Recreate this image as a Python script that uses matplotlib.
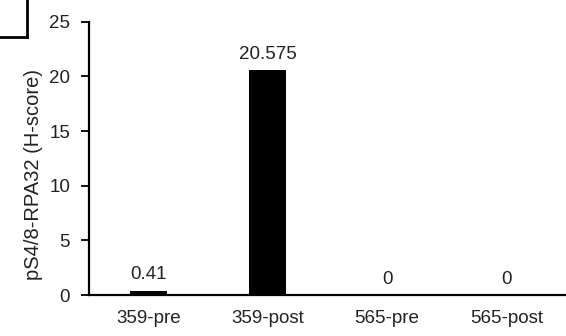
import matplotlib.pyplot as plt
from matplotlib.lines import Line2D

plt.rcParams['font.family'] = ['Liberation Sans', 'DejaVu Sans']

categories = ['359-pre', '359-post', '565-pre', '565-post']
values = [0.41, 20.575, 0, 0]
labels = ['0.41', '20.575', '0', '0']

fs = 13.5
fig = plt.figure(figsize=(5.66, 3.36), dpi=100)
ax = fig.add_axes([0.157, 0.122, 0.843, 0.813])

x = range(len(categories))
ax.bar(x, values, width=0.31, color='black')
for xi, v, lab in zip(x, values, labels):
    ax.text(xi, v + 0.65, lab, ha='center', va='bottom', fontsize=fs, color='#222222')

ax.set_xlim(-0.5, 3.5)
ax.set_ylim(0, 25)
ax.set_yticks([0, 5, 10, 15, 20, 25])
ax.set_xticks(list(x))
ax.set_xticklabels(categories)
ax.tick_params(axis='x', length=0, pad=11, labelsize=fs, colors='#222222')
ax.tick_params(axis='y', length=6, width=1.3, direction='out', pad=7.5, labelsize=fs, labelcolor='#222222')
ax.set_ylabel('pS4/8-RPA32 (H-score)', fontsize=14.5, color='#222222')
ax.yaxis.set_label_coords(-0.096, 0.44)

for s in ['top', 'right']:
    ax.spines[s].set_visible(False)
for s in ['left', 'bottom']:
    ax.spines[s].set_linewidth(1.6)

# cropped panel label box in the corner
fig.add_artist(Line2D([0.047, 0.047], [1.0, 0.89], transform=fig.transFigure, color='black', lw=2))
fig.add_artist(Line2D([0.0, 0.047], [0.89, 0.89], transform=fig.transFigure, color='black', lw=2))

fig.savefig('out.png', dpi=100)
